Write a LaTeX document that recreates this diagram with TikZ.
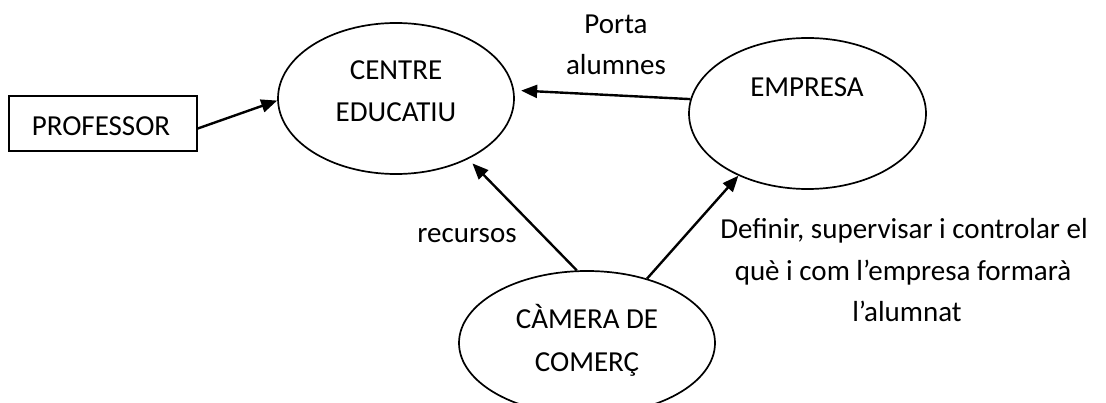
\documentclass[tikz,border=0pt]{standalone}
\usepackage{fontspec}
\setmainfont{Carlito}
\usetikzlibrary{arrows.meta,shapes.geometric}
\begin{document}
\begin{tikzpicture}[x=1pt,y=-1pt,
  every node/.style={font=\fontsize{29}{42}\selectfont},
  oval/.style={draw,ellipse,line width=1.7pt,inner sep=0pt},
  box/.style={draw,rectangle,line width=1.7pt,inner sep=0pt},
  txt/.style={anchor=base,inner sep=0pt},
  conn/.style={line width=2.4pt,-{Triangle[length=16pt,width=13pt]}}
]
\useasboundingbox (0,0) rectangle (1106,403);
% shapes
\node[box,minimum width=188pt,minimum height=55pt] (prof) at (103,123.5) {};
\node[oval,minimum width=236pt,minimum height=151pt] (ce) at (396,98.5) {};
\node[oval,minimum width=237pt,minimum height=151pt] (em) at (807.5,113.5) {};
\node[oval,minimum width=256pt,minimum height=144pt] (cc) at (587,343) {};
% texts
\node[txt] (tprof) at (101,136) {PROFESSOR};
\node[txt] (tce1) at (396,80) {CENTRE};
\node[txt] (tce2) at (396,122) {EDUCATIU};
\node[txt] (tem) at (807,97) {EMPRESA};
\node[txt] (tcc1) at (587,329) {CÀMERA DE};
\node[txt] (tcc2) at (587,371) {COMERÇ};
\node[txt] (lp1) at (616,34) {Porta};
\node[txt] (lp2) at (616,75) {alumnes};
\node[txt] (lrec) at (467,243) {recursos};
\node[txt] (ld1) at (904,239) {Definir, supervisar i controlar el};
\node[txt] (ld2) at (903,281) {què i com l’empresa formarà};
\node[txt] (ld3) at (907,322) {l’alumnat};
% connectors
\draw[conn] (prof.-3) -- (ce.181);
\draw[conn,shorten >=7pt] (em.173) -- (ce.4);
\draw[conn,shorten >=6pt] (cc.98) -- (ce.-40);
\draw[conn] (cc.47) -- (em.222);
\end{tikzpicture}
\end{document}
